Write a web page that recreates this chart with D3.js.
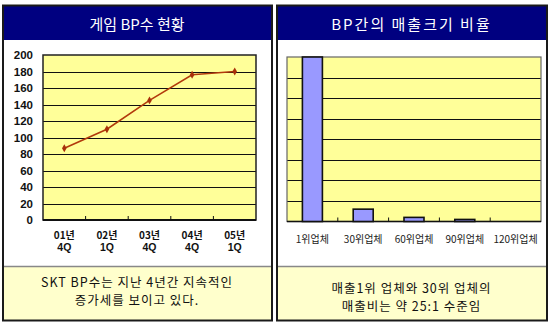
<!DOCTYPE html>
<html>
<head>
<meta charset="utf-8">
<script src="https://cdn.jsdelivr.net/npm/d3@7"></script>
<style>
  html, body { margin: 0; padding: 0; background: #fff; }
  svg { display: block; }
</style>
</head>
<body>
<svg id="chart" width="550" height="324"></svg>
<script>
// BP count by quarter
const yearLabels = ["01년", "02년", "03년", "04년", "05년"];
const quarterLabels = ["4Q", "1Q", "4Q", "4Q", "1Q"];
const bpCounts = [87, 110, 145, 176, 180];
const bpTicks = [0, 20, 40, 60, 80, 100, 120, 140, 160, 180, 200];

// Sales size by BP rank
const rankLabels = ["1위업체", "30위업체", "60위업체", "90위업체", "120위업체"];
const salesValues = [800, 60, 20, 10, 0];
const salesGrid = [0, 100, 200, 300, 400, 500, 600, 700, 800];

const titles = ["게임 BP수 현황", "BP간의 매출크기 비율"];
const captions = [
  ["SKT BP수는 지난 4년간 지속적인", "증가세를 보이고 있다."],
  ["매출1위 업체와 30위 업체의", "매출비는 약 25:1 수준임"]
];

const svg = d3.select("#chart");
const KR = "'Noto Sans CJK KR', 'Noto Sans', sans-serif";
const NUM = "'Liberation Sans', Arial, sans-serif";

const panels = [
  { x0: 2, x1: 272, titleSpacing: 0, captionY: 282 },
  { x0: 276, x1: 547, titleSpacing: 2, captionY: 288 }
];
const panelTop = 5, titleBottom = 40, captionTop = 266, panelBottom = 321;

panels.forEach((p, i) => {
  const g = svg.append("g");
  // panel body
  g.append("rect").attr("x", p.x0).attr("y", panelTop).attr("width", p.x1 - p.x0).attr("height", panelBottom - panelTop)
    .attr("fill", "#fff");
  // title bar
  g.append("rect").attr("x", p.x0).attr("y", panelTop).attr("width", p.x1 - p.x0).attr("height", titleBottom - panelTop)
    .attr("fill", "#000080");
  g.append("text").attr("x", (p.x0 + p.x1) / 2).attr("y", 25).attr("dy", "0.36em")
    .attr("text-anchor", "middle").attr("fill", "#fff")
    .style("letter-spacing", p.titleSpacing + "px")
    .style("font-family", KR).style("font-size", "15px").text(titles[i]);
  // caption box
  g.append("rect").attr("x", p.x0).attr("y", captionTop).attr("width", p.x1 - p.x0).attr("height", panelBottom - captionTop)
    .attr("fill", "#ffffcc");
  g.append("line").attr("x1", p.x0).attr("x2", p.x1).attr("y1", captionTop + 0.5).attr("y2", captionTop + 0.5)
    .attr("stroke", "#888").attr("stroke-width", 1.5);
  captions[i].forEach((line, k) => {
    g.append("text").attr("x", (p.x0 + p.x1) / 2).attr("y", p.captionY + k * 18).attr("dy", "0.36em")
      .attr("text-anchor", "middle").attr("fill", "#111")
      .style("letter-spacing", "1px")
      .style("font-family", KR).style("font-size", "12.5px").text(line);
  });
  // frame
  g.append("rect").attr("x", p.x0 + 1).attr("y", panelTop + 0.5).attr("width", p.x1 - p.x0 - 1).attr("height", panelBottom - panelTop - 1)
    .attr("fill", "none").attr("stroke", "#1a1a1a").attr("stroke-width", 2);
});

// ---------- Left: line chart ----------
{
  const L = { left: 43, right: 256, top: 55, bottom: 220 };
  const x = d3.scaleBand().domain(d3.range(yearLabels.length)).range([L.left, L.right]);
  const y = d3.scaleLinear().domain([0, 200]).range([L.bottom, L.top]);
  const g = svg.append("g");

  g.append("rect").attr("x", L.left).attr("y", L.top).attr("width", L.right - L.left).attr("height", L.bottom - L.top)
    .attr("fill", "#ffff99");
  g.selectAll("line.grid").data(bpTicks.filter(t => t > 0 && t < 200)).join("line")
    .attr("x1", L.left).attr("x2", L.right)
    .attr("y1", d => Math.round(y(d)) + 0.5).attr("y2", d => Math.round(y(d)) + 0.5)
    .attr("stroke", "#111").attr("stroke-width", 1);
  g.append("rect").attr("x", L.left).attr("y", L.top).attr("width", L.right - L.left).attr("height", L.bottom - L.top)
    .attr("fill", "none").attr("stroke", "#222").attr("stroke-width", 1.5);

  // y axis labels
  const yAxis = d3.axisLeft(y).tickValues(bpTicks).tickSize(0).tickPadding(10);
  const ya = g.append("g").attr("transform", `translate(${L.left},0)`).call(yAxis);
  ya.select(".domain").remove();
  ya.selectAll("text").style("font-family", NUM).style("font-weight", "bold").style("font-size", "11.5px").attr("fill", "#111");

  // x axis with ticks between categories
  g.append("line").attr("x1", L.left).attr("x2", L.right).attr("y1", L.bottom).attr("y2", L.bottom)
    .attr("stroke", "#111").attr("stroke-width", 2);
  g.selectAll("line.xt").data(d3.range(1, yearLabels.length)).join("line")
    .attr("x1", d => L.left + d * x.step()).attr("x2", d => L.left + d * x.step())
    .attr("y1", L.bottom).attr("y2", L.bottom - 4).attr("stroke", "#111");
  const xl = g.selectAll("g.xl").data(yearLabels).join("g")
    .attr("transform", (d, i) => `translate(${x(i) + x.bandwidth() / 2},0)`);
  xl.append("text").attr("y", 235).attr("dy", "0.36em").attr("text-anchor", "middle")
    .style("font-family", KR).style("font-weight", "bold").style("font-size", "10px").attr("fill", "#111").text(d => d);
  xl.append("text").attr("y", 247).attr("dy", "0.36em").attr("text-anchor", "middle")
    .style("font-family", NUM).style("font-weight", "bold").style("font-size", "10.5px").attr("fill", "#111")
    .text((d, i) => quarterLabels[i]);

  const line = d3.line().x((d, i) => x(i) + x.bandwidth() / 2).y(d => y(d));
  g.append("path").datum(bpCounts).attr("d", line).attr("fill", "none")
    .attr("stroke", "#b23a0c").attr("stroke-width", 1.6);
  g.selectAll("path.mk").data(bpCounts).join("path")
    .attr("d", d3.symbol(d3.symbolDiamond, 18))
    .attr("transform", (d, i) => `translate(${x(i) + x.bandwidth() / 2},${y(d)})`)
    .attr("fill", "#a8300a");
}

// ---------- Right: bar chart ----------
{
  const R = { left: 287, right: 541, top: 57, bottom: 221.5 };
  const x = d3.scaleBand().domain(d3.range(rankLabels.length)).range([R.left, R.right]).paddingInner(0).paddingOuter(0);
  const y = d3.scaleLinear().domain([0, 800]).range([R.bottom, R.top]);
  const g = svg.append("g");

  g.append("rect").attr("x", R.left).attr("y", R.top).attr("width", R.right - R.left).attr("height", R.bottom - R.top)
    .attr("fill", "#ffff99");
  g.selectAll("line.grid").data(salesGrid.filter(t => t > 0 && t < 800)).join("line")
    .attr("x1", R.left).attr("x2", R.right)
    .attr("y1", d => Math.round(y(d)) + 0.5).attr("y2", d => Math.round(y(d)) + 0.5)
    .attr("stroke", "#111").attr("stroke-width", 1);
  g.append("rect").attr("x", R.left).attr("y", R.top).attr("width", R.right - R.left).attr("height", R.bottom - R.top)
    .attr("fill", "none").attr("stroke", "#666").attr("stroke-width", 1.2);
  g.append("line").attr("x1", R.left).attr("x2", R.right).attr("y1", R.bottom).attr("y2", R.bottom)
    .attr("stroke", "#111").attr("stroke-width", 1.5);
  g.selectAll("line.xt").data(d3.range(1, rankLabels.length)).join("line")
    .attr("x1", d => R.left + d * x.step()).attr("x2", d => R.left + d * x.step())
    .attr("y1", R.bottom).attr("y2", R.bottom - 4).attr("stroke", "#111");

  const barW = 20;
  g.selectAll("rect.bar").data(salesValues).join("rect")
    .attr("x", (d, i) => x(i) + x.bandwidth() / 2 - barW / 2)
    .attr("y", d => y(d))
    .attr("width", barW)
    .attr("height", d => R.bottom - y(d))
    .attr("fill", "#9999ff")
    .attr("stroke", "#111").attr("stroke-width", 1.6)
    .attr("display", d => d > 0 ? null : "none");

  g.selectAll("text.xl").data(rankLabels).join("text")
    .attr("x", (d, i) => x(i) + x.bandwidth() / 2).attr("y", 239).attr("dy", "0.36em")
    .attr("text-anchor", "middle").attr("fill", "#222")
    .style("font-family", KR).style("font-size", "10px").text(d => d);
}
</script>
</body>
</html>
